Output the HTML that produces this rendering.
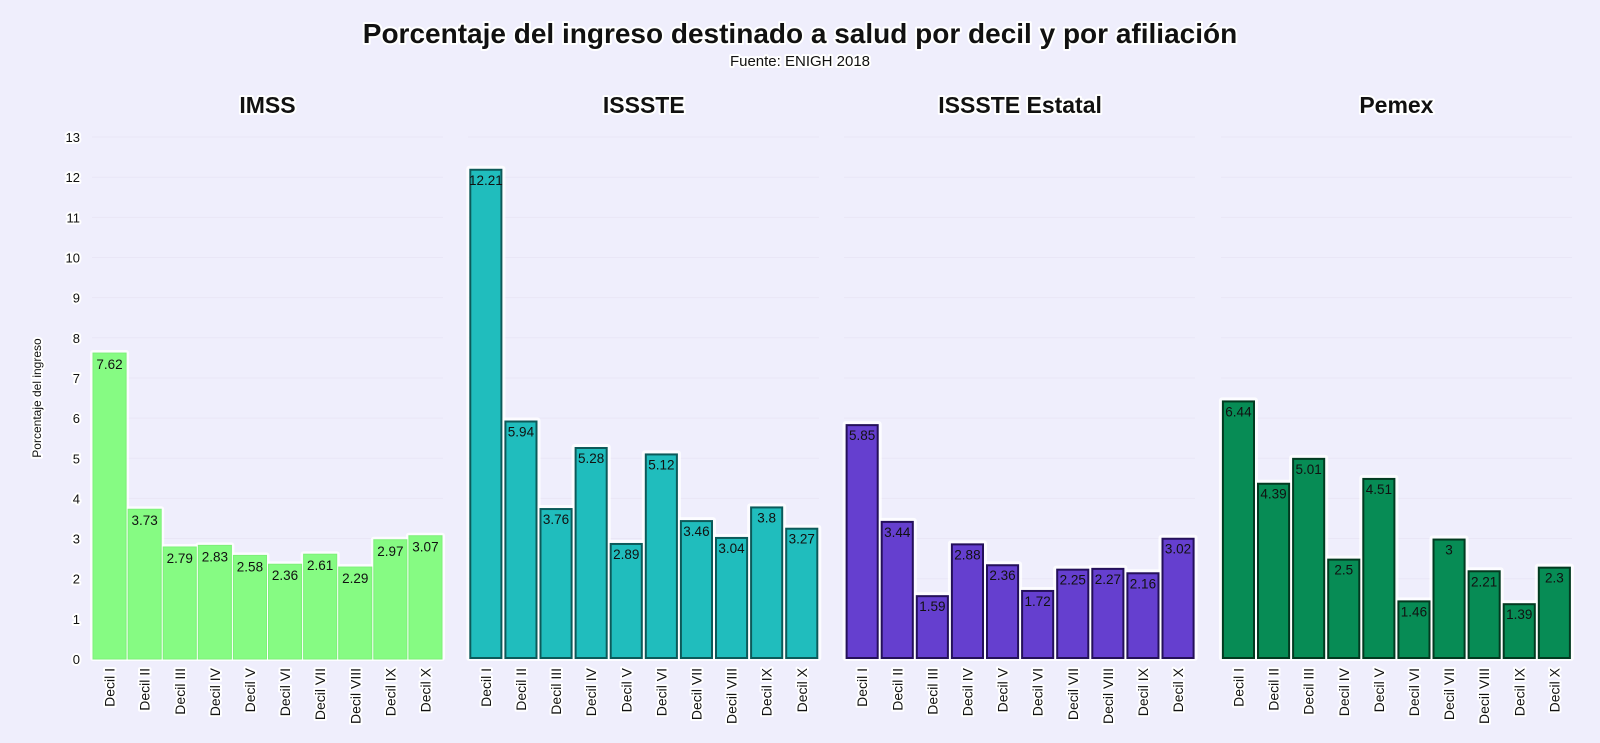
<!DOCTYPE html>
<html><head><meta charset="utf-8"><style>
html,body{margin:0;padding:0;background:#efeefc;}
svg{display:block;font-family:"Liberation Sans","DejaVu Sans",sans-serif;}
.h{paint-order:stroke;stroke:#fff;stroke-width:4px;stroke-linejoin:round;}
</style></head><body>
<svg id="s" width="1600" height="743" xmlns="http://www.w3.org/2000/svg">
<rect width="1600" height="743" fill="#efeefc"/>
<text class="h" x="800" y="43" text-anchor="middle" font-size="28" font-weight="bold" fill="#111">Porcentaje del ingreso destinado a salud por decil y por afiliación</text>
<text class="h" x="800" y="66" text-anchor="middle" font-size="15" fill="#111">Fuente: ENIGH 2018</text>
<text class="h" transform="translate(41,398) rotate(-90)" text-anchor="middle" font-size="12" fill="#111">Porcentaje del ingreso</text>
<g id="g"></g>
</svg>
<script>
var g=document.getElementById('g'),ns='http://www.w3.org/2000/svg';
function el(t,a,txt){var e=document.createElementNS(ns,t);for(var k in a)e.setAttribute(k,a[k]);if(txt!=null)e.textContent=txt;g.appendChild(e);return e;}
var y0=659,u=40.15;
for(var i=0;i<=13;i++){var y=y0-i*u;
 el('text',{'class':'h',x:80,y:y+5,'text-anchor':'end','font-size':13,fill:'#111'},i);
 [92,468,844,1221].forEach(function(x){el('line',{x1:x,x2:x+351,y1:y,y2:y,stroke:'#e9e6f6','stroke-width':1});});}
var P=[["IMSS","#86fb83",null,[7.62,3.73,2.79,2.83,2.58,2.36,2.61,2.29,2.97,3.07]],
["ISSSTE","#20bdbd","#0c5a5a",[12.21,5.94,3.76,5.28,2.89,5.12,3.46,3.04,3.8,3.27]],
["ISSSTE Estatal","#653fcf","#24105a",[5.85,3.44,1.59,2.88,2.36,1.72,2.25,2.27,2.16,3.02]],
["Pemex","#078c55","#023a20",[6.44,4.39,5.01,2.5,4.51,1.46,3,2.21,1.39,2.3]]];
var D=["I","II","III","IV","V","VI","VII","VIII","IX","X"];
P.forEach(function(p,k){var x0=92+k*376.3,w=35.1;
 el('text',{'class':'h',x:x0+175.5,y:113,'text-anchor':'middle','font-size':23,'font-weight':'bold',fill:'#111'},p[0]);
 p[3].forEach(function(v,j){var x=x0+j*w,h=v*u;
  el('rect',{x:x-2,y:y0-h-3,width:w+4,height:h+5,fill:'#fff',opacity:0.8,rx:3});});
 p[3].forEach(function(v,j){var x=x0+j*w,h=v*u;
  if(p[2]){
   el('rect',{x:x+1,y:y0-h,width:w-2,height:h,fill:p[2]});
   el('rect',{x:x+3,y:y0-h+2,width:w-6,height:h-4,fill:p[1]});
  } else {
   el('rect',{x:x+1,y:y0-h,width:w-2,height:h,fill:p[1],stroke:'#7ef07a','stroke-width':1});
  }
  el('text',{x:x+w/2,y:y0-h+16,'text-anchor':'middle','font-size':13.5,fill:'#111'},v);
  el('text',{'class':'h',transform:'translate('+(x+w/2+5)+',668) rotate(-90)','text-anchor':'end','font-size':14,fill:'#111'},'Decil '+D[j]);
 });});
</script>
</body></html>
